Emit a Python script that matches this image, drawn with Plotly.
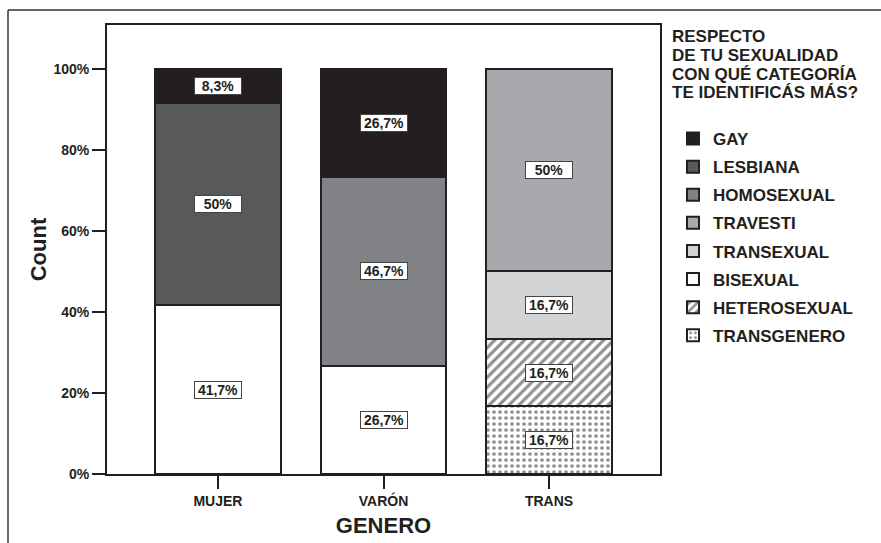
import plotly.graph_objects as go

categories = ["MUJER", "VARÓN", "TRANS"]

# stack order, bottom to top
series_names = ["TRANSGENERO", "HETEROSEXUAL", "BISEXUAL", "TRANSEXUAL",
                "TRAVESTI", "HOMOSEXUAL", "LESBIANA", "GAY"]
transgenero = [None, None, 16.7]
heterosexual = [None, None, 16.7]
bisexual = [41.7, 26.7, None]
transexual = [None, None, 16.7]
travesti = [None, None, 50]
homosexual = [None, 46.7, None]
lesbiana = [50, None, None]
gay = [8.3, 26.7, None]

series_values = [transgenero, heterosexual, bisexual, transexual,
                 travesti, homosexual, lesbiana, gay]

y_ticks = [0, 20, 40, 60, 80, 100]
y_tick_labels = ["0%", "20%", "40%", "60%", "80%", "100%"]

legend_title_lines = ["RESPECTO", "DE TU SEXUALIDAD", "CON QUÉ CATEGORÍA",
                      "TE IDENTIFICÁS MÁS?"]

INK = "#231f20"
FONT = "Liberation Sans, Arial, Helvetica, sans-serif"

styles = {
    "GAY": dict(color="#231f20"),
    "LESBIANA": dict(color="#58595b"),
    "HOMOSEXUAL": dict(color="#808285"),
    "TRAVESTI": dict(color="#a7a9ac"),
    "TRANSEXUAL": dict(color="#d1d3d4"),
    "BISEXUAL": dict(color="#ffffff"),
    "HETEROSEXUAL": dict(color="#ffffff",
                         pattern=dict(shape="/", fgcolor=INK, bgcolor="#ffffff",
                                      size=7, solidity=0.45)),
    "TRANSGENERO": dict(color="#ffffff",
                        pattern=dict(shape=".", fgcolor=INK, bgcolor="#ffffff",
                                     size=6, solidity=0.3)),
}

# plot area in page pixels: x 107..660, y 25..474
PX_L, PX_R, PX_T, PX_B = 107, 660, 25, 474


def paper_x(px):
    return (px - PX_L) / (PX_R - PX_L)


def paper_y(py):
    return (PX_B - py) / (PX_B - PX_T)


n = len(series_names)
fig = go.Figure()
for i, (name, vals) in enumerate(zip(series_names, series_values)):
    st = styles[name]
    marker = dict(color=st["color"], line=dict(color=INK, width=2))
    if "pattern" in st:
        marker["pattern"] = st["pattern"]
    fig.add_trace(go.Bar(x=categories, y=vals, name=name, marker=marker,
                         legendgroup=name, legendrank=100 + (n - i),
                         hoverinfo="skip"))


def fmt(v):
    if abs(v - round(v)) < 1e-9:
        return f"{int(round(v))}%"
    return f"{v:.1f}".replace(".", ",") + "%"


annotations = []
for ci, cat in enumerate(categories):
    base = 0.0
    for vals in series_values:
        v = vals[ci]
        if v is None:
            continue
        annotations.append(dict(
            x=cat, y=base + v / 2, xref="x", yref="y", text=fmt(v),
            showarrow=False, bgcolor="#ffffff", bordercolor="#444444",
            borderwidth=1, borderpad=1, width=44, height=14,
            font=dict(family=FONT, size=14, color=INK, weight="bold")))
        base += v

for k, line in enumerate(legend_title_lines):
    annotations.append(dict(
        x=paper_x(670), y=paper_y(37 + 18.6 * k), xref="paper", yref="paper",
        xanchor="left", yanchor="middle", text=line, showarrow=False,
        font=dict(family=FONT, size=17, color=INK, weight="bold")))

fig.update_layout(
    width=881, height=543,
    margin=dict(l=PX_L, r=881 - PX_R, t=PX_T, b=543 - PX_B, autoexpand=False),
    paper_bgcolor="#ffffff", plot_bgcolor="#ffffff",
    barmode="stack", bargap=0.24,
    font=dict(family=FONT, size=14, color=INK, weight="bold"),
    annotations=annotations,
    legend=dict(
        x=paper_x(673), y=paper_y(121), xanchor="left", yanchor="top",
        traceorder="grouped", tracegroupgap=3,
        font=dict(family=FONT, size=17, color=INK, weight="bold"),
        bgcolor="rgba(0,0,0,0)",
    ),
    xaxis=dict(
        type="category", range=[-0.67, 2.67], automargin=False,
        showline=True, linecolor=INK, linewidth=2, mirror=True,
        ticks="outside", ticklen=13, tickwidth=2, tickcolor=INK,
        showgrid=False, zeroline=False,
        tickfont=dict(family=FONT, size=14, color=INK, weight="bold"),
        title=dict(text="GENERO", standoff=10,
                   font=dict(family=FONT, size=22, color=INK, weight="bold")),
    ),
    yaxis=dict(
        range=[0, 110.9], tickvals=y_ticks, ticktext=y_tick_labels,
        automargin=False,
        showline=True, linecolor=INK, linewidth=2, mirror=True,
        ticks="outside", ticklen=13, tickwidth=2, tickcolor=INK,
        showgrid=False, zeroline=False,
        tickfont=dict(family=FONT, size=14, color=INK, weight="bold"),
        title=dict(text="Count", standoff=1,
                   font=dict(family=FONT, size=22, color=INK, weight="bold")),
    ),
    shapes=[
        dict(type="line", xref="paper", yref="paper",
             x0=paper_x(8), x1=paper_x(900), y0=paper_y(10), y1=paper_y(10),
             line=dict(color="#333333", width=1.5)),
        dict(type="line", xref="paper", yref="paper",
             x0=paper_x(8), x1=paper_x(8), y0=paper_y(10), y1=paper_y(560),
             line=dict(color="#333333", width=1.5)),
    ],
)

fig.write_html("out.html", config={"displayModeBar": False},
               post_script="document.body.style.margin='0';document.body.style.padding='0';")
